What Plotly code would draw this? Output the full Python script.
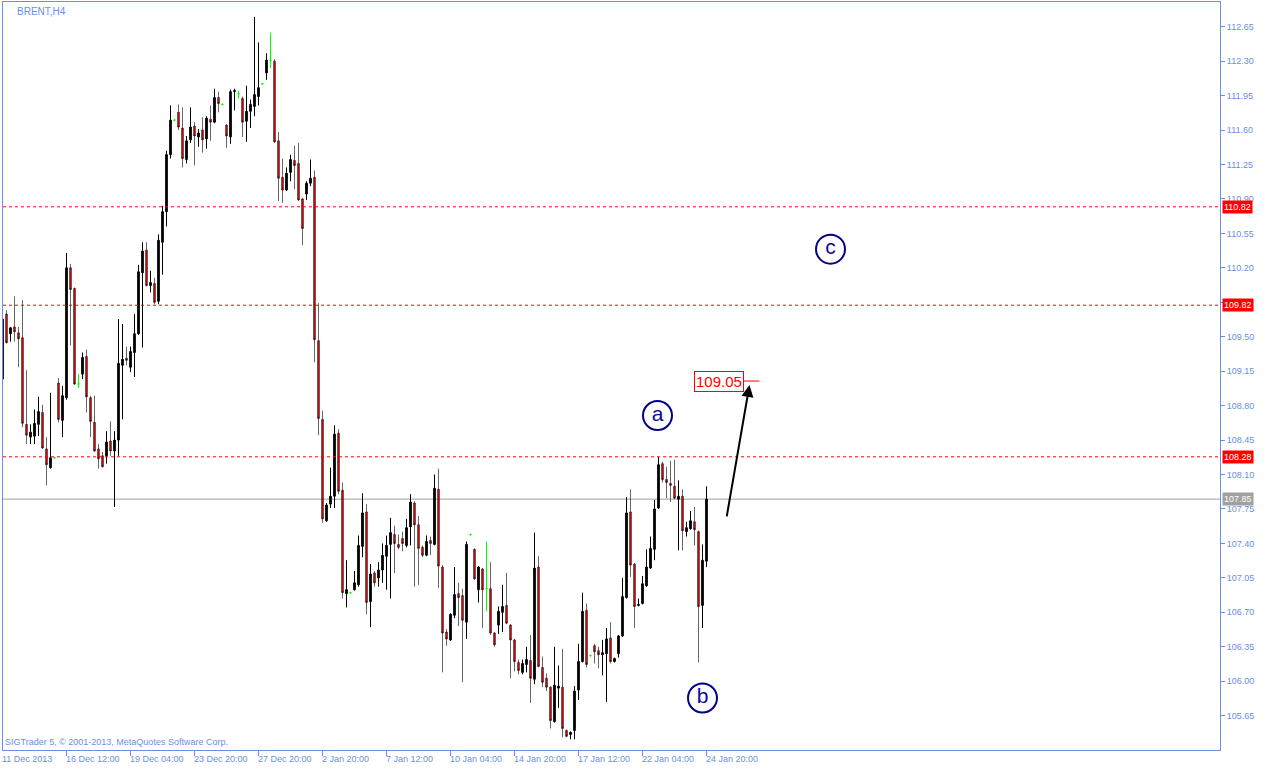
import plotly.graph_objects as go

# ---------------- data (BRENT, H4) ----------------
OPEN = [109.07,109.73,109.53,109.60,109.54,109.49,108.61,108.48,108.49,108.61,
        108.73,108.36,108.17,108.27,109.03,108.65,108.88,110.20,109.99,109.02,
        109.12,109.30,108.88,108.63,108.36,108.29,108.29,108.44,108.34,108.45,
        109.21,109.28,109.19,109.34,109.53,110.15,110.38,110.02,110.04,109.86,
        110.46,110.77,111.35,111.70,111.78,111.62,111.30,111.50,111.64,111.53,
        111.60,111.51,111.71,111.68,111.93,111.86,111.65,111.53,111.99,111.97,
        111.92,111.69,111.79,111.84,111.94,112.07,112.18,112.31,112.30,111.49,
        111.12,110.99,111.17,111.29,111.26,110.90,110.95,111.06,111.12,109.46,
        108.66,107.63,107.80,107.88,108.52,107.94,106.89,106.90,106.93,106.98,
        107.37,107.72,106.81,107.10,107.05,107.13,107.27,107.39,107.49,107.39,
        107.45,107.38,107.57,107.81,107.59,107.36,107.28,107.43,107.39,107.95,
        107.16,106.50,106.42,106.67,106.89,106.87,106.60,107.49,107.34,106.93,
        107.14,106.94,106.94,106.49,106.57,106.70,106.77,106.57,106.42,106.19,
        106.09,106.17,106.21,106.02,107.16,106.14,106.03,105.94,105.59,105.93,
        105.94,105.50,105.46,105.50,105.91,106.20,106.72,106.26,106.36,106.31,
        106.27,106.28,106.44,106.20,106.28,106.46,106.85,107.72,107.19,106.77,
        106.79,106.97,107.15,107.34,107.76,108.21,108.05,108.01,107.98,107.85,
        107.88,107.52,107.55,107.62,107.52,106.77,107.22]
HIGH = [109.73,109.77,109.60,109.91,109.60,109.87,109.16,108.61,108.76,108.89,
        108.81,108.48,108.93,108.28,109.08,109.00,110.35,110.24,110.00,109.12,
        109.34,109.37,108.90,108.90,108.41,108.33,108.54,108.64,108.54,109.68,
        109.63,109.40,109.40,109.73,110.23,110.46,110.46,110.17,110.10,110.54,
        110.83,111.39,111.85,111.71,111.86,111.83,111.54,111.83,111.68,111.61,
        111.73,111.74,111.85,112.02,111.99,111.87,111.66,112.01,112.02,112.00,
        111.94,112.05,111.91,112.75,112.49,112.08,112.38,112.59,112.32,111.58,
        111.31,111.22,111.35,111.44,111.47,110.91,111.08,111.30,111.19,109.84,
        108.75,107.81,108.17,108.60,108.56,108.02,107.23,106.91,107.12,107.48,
        107.91,107.80,107.19,107.12,107.21,107.40,107.48,107.66,107.58,107.49,
        107.52,107.65,107.90,107.83,107.68,107.38,107.48,107.47,108.10,108.16,
        107.18,106.53,106.69,107.16,107.00,106.94,107.42,107.50,107.35,107.17,
        107.15,107.42,107.21,106.50,106.76,106.98,107.10,106.58,106.43,106.22,
        106.22,106.35,106.47,107.51,107.27,106.25,106.08,105.95,106.35,106.16,
        106.33,105.51,105.49,105.95,106.38,106.90,106.79,106.27,106.38,106.35,
        106.42,106.54,106.60,106.24,106.47,107.05,107.87,107.95,107.20,106.84,
        107.07,107.34,107.47,107.84,108.28,108.23,108.18,108.24,108.25,108.04,
        107.95,107.62,107.73,107.77,107.53,107.39,107.98]
LOW = [109.01,109.43,109.45,109.45,109.19,108.58,108.41,108.41,108.41,108.49,
       108.36,107.99,108.16,108.26,108.63,108.48,108.86,109.41,109.01,108.98,
       109.07,108.73,108.48,108.33,108.16,108.17,108.21,108.29,107.77,108.29,
       108.66,109.21,109.14,109.09,109.52,109.39,110.01,109.95,109.83,109.83,
       110.13,110.62,111.31,111.69,111.60,111.22,111.26,111.47,111.24,111.43,
       111.37,111.41,111.49,111.67,111.78,111.85,111.42,111.46,111.80,111.92,
       111.53,111.48,111.62,111.74,111.85,112.06,112.11,112.23,111.47,110.88,
       110.86,110.98,111.08,111.00,110.88,110.43,110.89,111.03,109.24,108.50,
       107.61,107.62,107.76,107.76,107.90,106.84,106.75,106.89,106.92,106.96,
       107.26,106.68,106.55,106.96,106.96,107.00,106.93,106.84,107.10,107.34,
       107.32,107.36,107.38,106.96,106.98,107.26,107.27,107.28,107.38,106.95,
       106.09,106.36,106.41,106.64,106.56,105.99,106.43,107.48,107.03,106.80,
       106.54,106.71,106.47,106.35,106.48,106.50,106.58,106.03,106.10,106.07,
       106.07,106.09,105.78,105.97,106.14,105.94,105.90,105.52,105.58,105.73,
       105.43,105.43,105.41,105.41,105.81,106.19,106.14,106.25,106.18,106.13,
       106.06,105.79,106.18,106.19,106.24,106.45,106.84,107.06,106.54,106.76,
       106.78,106.96,107.14,107.23,107.75,108.02,107.86,107.82,107.85,107.33,
       107.33,107.47,107.54,107.38,106.19,106.54,107.16]
CLOSE = [109.68,109.44,109.59,109.55,109.48,108.62,108.50,108.53,108.62,108.74,
         108.37,108.20,108.27,108.27,108.66,108.90,110.20,109.98,109.02,109.02,
         109.29,108.89,108.64,108.34,108.26,108.18,108.43,108.34,108.45,109.23,
         109.27,109.26,109.35,109.53,110.16,110.37,110.02,110.05,109.85,110.48,
         110.77,111.35,111.70,111.70,111.63,111.31,111.49,111.63,111.54,111.57,
         111.50,111.72,111.68,111.93,111.87,111.86,111.54,111.99,112.00,111.97,
         111.68,111.79,111.86,111.96,112.03,112.07,112.31,112.31,111.48,111.11,
         110.99,111.16,111.30,111.24,110.89,110.60,111.06,111.11,109.47,108.67,
         107.65,107.79,107.88,108.51,107.93,106.90,106.93,106.90,107.00,107.38,
         107.71,106.80,107.09,107.00,107.13,107.28,107.38,107.51,107.40,107.36,
         107.40,107.56,107.82,107.59,107.35,107.28,107.42,107.40,107.96,107.17,
         106.49,106.43,106.68,106.88,106.85,106.62,107.39,107.49,107.04,107.16,
         106.93,106.94,106.49,106.37,106.71,106.76,106.59,106.42,106.20,106.11,
         106.18,106.22,106.03,107.15,106.15,105.99,105.94,105.60,105.96,105.95,
         105.52,105.44,105.48,105.90,106.20,106.71,106.17,106.26,106.30,106.27,
         106.29,106.43,106.20,106.23,106.46,106.86,107.71,107.18,106.76,106.78,
         106.99,107.16,107.35,107.75,108.20,108.05,108.02,107.99,107.86,107.88,
         107.53,107.56,107.63,107.54,106.76,107.23,107.85]

TICK_BARS = [0, 16, 32, 48, 64, 80, 96, 112, 128, 144, 160, 176]
TICK_LABELS = ["11 Dec 2013", "16 Dec 12:00", "19 Dec 04:00", "23 Dec 20:00",
               "27 Dec 20:00", "2 Jan 20:00", "7 Jan 12:00", "10 Jan 04:00",
               "14 Jan 20:00", "17 Jan 12:00", "22 Jan 04:00", "24 Jan 20:00"]
Y_TICKS = [105.65, 106.00, 106.35, 106.70, 107.05, 107.40, 107.75, 108.10,
           108.45, 108.80, 109.15, 109.50, 109.85, 110.20, 110.55, 110.90,
           111.25, 111.60, 111.95, 112.30, 112.65]
HIDDEN_TICKS = [109.85]                    # label covered by the 109.82 level tag

LEVELS = [110.82, 109.82, 108.28]          # red dashed levels
LAST_PRICE = 107.85                        # gray bid line

WAVE_TEXT = ["a", "b", "c"]
WAVE_X = [163.75, 175.0, 207.0]
WAVE_Y = [108.70, 105.83, 110.39]

TARGET_PRICE = 109.05
TARGET_X = [179.0, 185.25, 189.25]         # label centre, line start, line end
ARROW_FROM = (181.0, 107.66)
ARROW_TO = (186.75, 109.01)

BLUE = "#6A8FE4"
FONT = "Liberation Sans"
X0 = 0.125
X1 = X0 + 1217 / 4.0
Y_RANGE = [105.3013, 112.9007]

n = len(OPEN)
assert n == len(HIGH) == len(LOW) == len(CLOSE)
idx = list(range(n))
norm = [i for i in idx if OPEN[i] != CLOSE[i]]
doji = [i for i in idx if OPEN[i] == CLOSE[i]]

fig = go.Figure()
fig.add_trace(go.Candlestick(
    x=norm, open=[OPEN[i] for i in norm], high=[HIGH[i] for i in norm],
    low=[LOW[i] for i in norm], close=[CLOSE[i] for i in norm],
    increasing=dict(fillcolor="#000000", line=dict(color="#000000", width=1)),
    decreasing=dict(fillcolor="#FF0000", line=dict(color="#000000", width=0.6)),
    whiskerwidth=0, hoverinfo="skip", showlegend=False))
fig.add_trace(go.Candlestick(
    x=doji, open=[OPEN[i] for i in doji], high=[HIGH[i] for i in doji],
    low=[LOW[i] for i in doji], close=[CLOSE[i] for i in doji],
    increasing=dict(fillcolor="#00FF00", line=dict(color="#00FF00", width=1)),
    decreasing=dict(fillcolor="#00FF00", line=dict(color="#00FF00", width=1)),
    whiskerwidth=0, hoverinfo="skip", showlegend=False))

# wave labels
fig.add_trace(go.Scatter(
    x=WAVE_X, y=WAVE_Y, mode="markers+text", text=WAVE_TEXT,
    textposition="middle center",
    textfont=dict(family=FONT, size=21, color="#0A0AA0"),
    marker=dict(symbol="circle-open", size=29, color="#00008B",
                line=dict(width=2, color="#00008B")),
    hoverinfo="skip", showlegend=False))

shapes = []
for lv in LEVELS:
    shapes.append(dict(type="line", xref="paper", x0=0, x1=1, yref="y", y0=lv, y1=lv,
                       line=dict(color="#FF0000", width=1, dash="3px,3px"), layer="above"))
shapes.append(dict(type="line", xref="paper", x0=0, x1=1, yref="y", y0=LAST_PRICE, y1=LAST_PRICE,
                   line=dict(color="#A0A0A0", width=1), layer="below"))
shapes.append(dict(type="line", xref="x", x0=TARGET_X[1], x1=TARGET_X[2], yref="y",
                   y0=TARGET_PRICE, y1=TARGET_PRICE, line=dict(color="#FF0000", width=1)))

annotations = []
for lv in LEVELS:
    annotations.append(dict(xref="paper", x=1, xanchor="left", xshift=2, yref="y", y=lv,
                            text=f"{lv:.2f}", showarrow=False, bgcolor="#FF0000",
                            font=dict(family=FONT, size=9, color="#FFFFFF"), borderpad=1))
annotations.append(dict(xref="paper", x=1, xanchor="left", xshift=2, yref="y", y=LAST_PRICE,
                        text=f"{LAST_PRICE:.2f}", showarrow=False, bgcolor="#A0A0A0",
                        font=dict(family=FONT, size=9, color="#FFFFFF"), borderpad=1))
for tb, tl in zip(TICK_BARS, TICK_LABELS):
    annotations.append(dict(xref="x", x=max(tb, X0), xanchor="left", xshift=-3, yref="paper", y=0,
                            yanchor="top", yshift=-2, text=tl, showarrow=False,
                            font=dict(family=FONT, size=9, color=BLUE)))
annotations.append(dict(xref="paper", x=0, xanchor="left", xshift=12, yref="paper", y=1,
                        yanchor="top", yshift=-2, text="BRENT,H4", showarrow=False,
                        font=dict(family=FONT, size=10, color=BLUE)))
annotations.append(dict(xref="paper", x=0, xanchor="left", xshift=0, yref="paper", y=0,
                        yanchor="bottom", yshift=1,
                        text="SIGTrader 5, © 2001-2013, MetaQuotes Software Corp.",
                        showarrow=False, font=dict(family=FONT, size=9, color=BLUE)))
annotations.append(dict(xref="x", x=TARGET_X[0], yref="y", y=TARGET_PRICE,
                        text=f"{TARGET_PRICE:.2f}", showarrow=False, bgcolor="#FFFFFF",
                        bordercolor="#FF0000", borderwidth=1, borderpad=1,
                        font=dict(family=FONT, size=15, color="#FF0000")))
annotations.append(dict(xref="x", yref="y", x=ARROW_TO[0], y=ARROW_TO[1],
                        axref="x", ayref="y", ax=ARROW_FROM[0], ay=ARROW_FROM[1],
                        text="", showarrow=True, arrowhead=2, arrowsize=1.2,
                        arrowwidth=2, arrowcolor="#000000"))

fig.update_layout(
    width=1268, height=771,
    margin=dict(l=3, r=48, t=2, b=21),
    paper_bgcolor="#FFFFFF", plot_bgcolor="#FFFFFF",
    showlegend=False, boxgap=0.4,
    shapes=shapes, annotations=annotations,
    font=dict(family=FONT, size=9, color=BLUE),
    xaxis=dict(range=[X0, X1], showgrid=False, zeroline=False,
               rangeslider=dict(visible=False), tickmode="array", tickvals=TICK_BARS,
               showticklabels=False, ticks="outside", ticklen=5, tickcolor=BLUE,
               showline=True, linecolor=BLUE, linewidth=1, mirror=True, fixedrange=True),
    yaxis=dict(range=Y_RANGE, side="right", showgrid=False, zeroline=False,
               tickmode="array", tickvals=Y_TICKS,
               ticktext=["" if v in HIDDEN_TICKS else f"{v:.2f}" for v in Y_TICKS],
               ticks="outside", ticklen=4, tickcolor=BLUE,
               tickfont=dict(family=FONT, size=9, color=BLUE),
               showline=True, linecolor=BLUE, linewidth=1, mirror=True, fixedrange=True),
)

fig.write_html("out.html", config={"displayModeBar": False},
               post_script="document.body.style.margin='0';document.body.style.padding='0';")
